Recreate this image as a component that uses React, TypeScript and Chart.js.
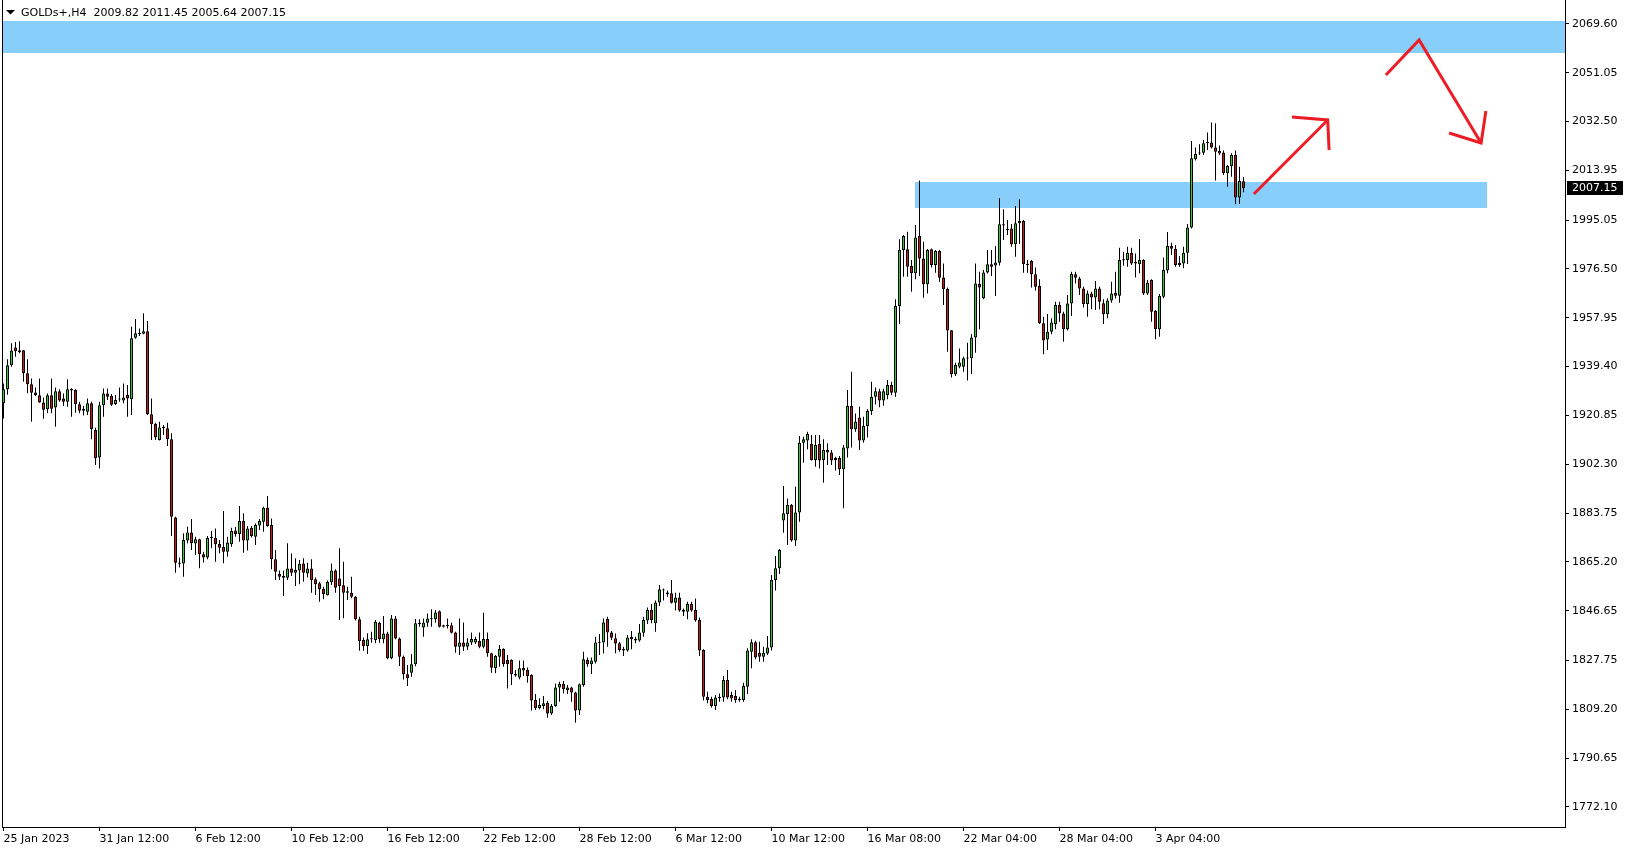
import { useEffect, useRef } from "react";
import { Chart, registerables } from "chart.js";

Chart.register(...registerables);

// ---------- data ----------
const headerText = "GOLDs+,H4  2009.82 2011.45 2005.64 2007.15";

const opens = [
  1925.5, 1930.8, 1939.9, 1946.7, 1945.6, 1945.6, 1936.9, 1932.7, 1929.6, 1928.5,
  1925.8, 1923.2, 1928.5, 1923.9, 1930.0, 1927.3, 1926.1, 1930.3, 1930.5, 1925.1,
  1923.3, 1922.3, 1925.5, 1915.3, 1904.9, 1924.7, 1929.2, 1928.2, 1925.2, 1926.9,
  1926.5, 1928.6, 1927.0, 1950.4, 1951.8, 1951.9, 1952.8, 1921.3, 1917.6, 1911.5,
  1916.0, 1916.0, 1911.8, 1882.1, 1865.0, 1864.6, 1873.3, 1876.4, 1872.2, 1873.8,
  1868.1, 1866.9, 1874.2, 1874.3, 1872.0, 1870.9, 1869.1, 1871.9, 1877.1, 1875.8,
  1880.7, 1873.3, 1878.2, 1874.8, 1879.0, 1880.5, 1885.8, 1879.2, 1866.2, 1860.6,
  1859.8, 1859.2, 1862.7, 1861.1, 1861.9, 1864.6, 1860.8, 1862.7, 1858.6, 1857.1,
  1854.9, 1852.5, 1857.5, 1861.9, 1858.9, 1856.3, 1854.0, 1853.5, 1852.0, 1843.4,
  1835.5, 1833.2, 1835.8, 1835.5, 1842.1, 1835.8, 1838.0, 1828.6, 1843.7, 1836.1,
  1829.2, 1822.5, 1823.1, 1826.3, 1842.1, 1840.3, 1842.1, 1843.4, 1843.4, 1846.4,
  1841.1, 1841.0, 1841.1, 1838.4, 1833.0, 1834.6, 1833.0, 1834.6, 1834.6, 1835.1,
  1833.0, 1835.9, 1830.5, 1824.8, 1829.2, 1832.1, 1827.9, 1827.9, 1822.6, 1821.3,
  1824.9, 1824.1, 1822.2, 1812.7, 1809.6, 1810.4, 1811.7, 1807.6, 1810.4, 1817.5,
  1818.8, 1816.5, 1817.5, 1815.6, 1808.7, 1818.4, 1827.9, 1826.3, 1827.3, 1834.5,
  1834.6, 1843.5, 1838.4, 1836.2, 1834.3, 1832.1, 1831.5, 1836.7, 1836.0, 1835.3,
  1838.3, 1842.9, 1846.9, 1841.9, 1849.8, 1854.3, 1853.6, 1853.3, 1849.7, 1851.7,
  1846.9, 1846.3, 1849.2, 1846.9, 1843.1, 1831.7, 1814.0, 1813.1, 1810.4, 1813.4,
  1813.7, 1820.3, 1814.6, 1814.2, 1813.2, 1812.7, 1817.8, 1831.1, 1834.7, 1830.7,
  1829.2, 1830.4, 1832.7, 1858.3, 1862.8, 1880.9, 1883.4, 1886.8, 1873.3, 1884.0,
  1910.5, 1911.3, 1910.0, 1903.9, 1910.0, 1903.9, 1907.7, 1906.8, 1904.7, 1904.7,
  1900.4, 1908.3, 1924.4, 1915.6, 1920.1, 1911.3, 1916.8, 1922.5, 1928.0, 1930.0,
  1926.5, 1928.5, 1932.4, 1929.5, 1962.4, 1983.7, 1984.0, 1977.6, 1974.9, 1989.0,
  1980.5, 1970.7, 1984.0, 1978.0, 1983.3, 1973.3, 1968.9, 1953.2, 1936.5, 1939.4,
  1939.4, 1942.9, 1942.6, 1950.5, 1970.8, 1965.4, 1975.2, 1978.3, 1977.8, 1978.9,
  1993.5, 1991.6, 1991.9, 1985.9, 1993.9, 1994.7, 1978.4, 1979.5, 1974.5, 1970.0,
  1955.9, 1949.7, 1952.7, 1955.5, 1962.8, 1959.6, 1953.6, 1963.4, 1974.5, 1972.9,
  1969.1, 1963.2, 1967.2, 1965.7, 1969.1, 1963.5, 1959.3, 1964.5, 1967.5, 1966.3,
  1979.7, 1979.9, 1982.7, 1979.3, 1978.3, 1979.9, 1967.2, 1972.3, 1960.5, 1953.6,
  1966.0, 1975.9, 1985.2, 1984.1, 1978.9, 1978.6, 1982.7, 1992.3, 2018.3, 2020.4,
  2020.7, 2024.3, 2024.6, 2022.7, 2021.3, 2020.8, 2012.9, 2015.6, 2019.8, 2003.7,
  2009.82,
];

const highs = [
  1933.0, 1942.2, 1948.3, 1948.8, 1949.0, 1945.7, 1942.2, 1934.9, 1931.5, 1934.9,
  1927.7, 1929.2, 1934.9, 1931.5, 1930.8, 1929.2, 1934.6, 1931.2, 1930.8, 1926.1,
  1924.4, 1927.3, 1926.1, 1916.2, 1926.1, 1931.1, 1931.1, 1929.0, 1928.6, 1931.5,
  1933.0, 1932.4, 1954.6, 1957.5, 1953.9, 1959.7, 1956.7, 1927.3, 1918.1, 1918.5,
  1917.2, 1918.1, 1914.1, 1882.4, 1866.9, 1876.1, 1878.6, 1881.5, 1874.8, 1874.0,
  1869.1, 1875.0, 1876.9, 1877.9, 1873.5, 1884.5, 1874.8, 1878.2, 1878.6, 1886.4,
  1883.7, 1878.8, 1878.8, 1879.8, 1881.5, 1886.2, 1890.2, 1881.7, 1869.7, 1861.9,
  1861.9, 1872.3, 1868.4, 1866.6, 1865.9, 1866.6, 1864.9, 1866.2, 1859.3, 1857.7,
  1855.8, 1858.1, 1864.6, 1862.4, 1870.4, 1865.3, 1855.8, 1859.6, 1852.2, 1844.4,
  1836.5, 1838.1, 1838.7, 1843.1, 1842.5, 1844.6, 1838.7, 1845.0, 1844.6, 1836.5,
  1829.6, 1826.0, 1830.2, 1843.5, 1843.4, 1843.7, 1845.6, 1847.2, 1846.9, 1846.7,
  1841.3, 1843.7, 1842.1, 1838.7, 1843.7, 1842.2, 1836.2, 1838.4, 1836.8, 1838.4,
  1845.9, 1838.4, 1830.7, 1829.8, 1833.6, 1832.4, 1829.8, 1828.2, 1824.1, 1827.7,
  1827.7, 1825.1, 1822.5, 1815.0, 1813.4, 1814.2, 1812.3, 1811.2, 1819.0, 1819.7,
  1819.9, 1818.4, 1817.8, 1815.9, 1819.0, 1831.1, 1828.9, 1828.9, 1836.8, 1837.8,
  1843.7, 1844.4, 1838.9, 1838.0, 1834.9, 1833.0, 1837.4, 1838.9, 1836.8, 1841.6,
  1844.4, 1847.9, 1849.2, 1850.5, 1856.4, 1855.1, 1854.3, 1858.3, 1853.5, 1853.5,
  1847.5, 1850.1, 1850.1, 1851.3, 1844.1, 1832.0, 1815.9, 1814.0, 1814.6, 1815.2,
  1821.8, 1824.1, 1815.9, 1816.5, 1814.0, 1819.3, 1832.4, 1835.8, 1835.2, 1834.9,
  1833.0, 1837.0, 1860.2, 1867.4, 1870.1, 1894.0, 1889.3, 1887.2, 1893.8, 1913.0,
  1912.8, 1914.7, 1913.4, 1913.4, 1913.4, 1911.8, 1910.3, 1907.7, 1905.2, 1905.4,
  1909.6, 1930.5, 1937.5, 1921.6, 1924.2, 1920.4, 1923.2, 1933.7, 1931.5, 1931.0,
  1931.0, 1934.3, 1933.7, 1965.0, 1987.8, 1989.4, 1990.7, 1979.9, 1993.2, 2010.1,
  1986.9, 1984.1, 1984.3, 1983.7, 1983.7, 1978.6, 1969.5, 1953.3, 1940.9, 1946.3,
  1943.2, 1948.5, 1951.8, 1978.6, 1975.5, 1976.1, 1983.7, 1983.7, 1985.2, 2003.4,
  1999.2, 1995.1, 1993.6, 2000.4, 2003.0, 1995.1, 1979.9, 1979.9, 1977.1, 1972.6,
  1958.4, 1959.4, 1957.8, 1964.1, 1964.1, 1960.3, 1966.6, 1975.5, 1975.5, 1973.6,
  1969.8, 1968.3, 1967.9, 1971.9, 1969.8, 1965.0, 1965.4, 1971.7, 1975.5, 1984.6,
  1983.1, 1985.0, 1984.6, 1982.4, 1987.9, 1980.2, 1972.3, 1972.6, 1960.9, 1967.0,
  1980.9, 1990.6, 1986.5, 1985.6, 1981.4, 1985.0, 1993.6, 2025.1, 2022.7, 2023.9,
  2025.5, 2028.4, 2032.2, 2031.9, 2023.4, 2021.5, 2016.0, 2020.5, 2021.5, 2015.4,
  2011.45,
];

const lows = [
  1919.7, 1928.7, 1939.4, 1943.2, 1944.5, 1933.7, 1929.3, 1918.5, 1928.2, 1925.7,
  1919.6, 1921.7, 1921.7, 1916.6, 1926.1, 1924.4, 1924.2, 1920.4, 1921.9, 1921.7,
  1920.8, 1921.0, 1911.8, 1902.0, 1900.7, 1920.4, 1926.7, 1924.4, 1924.8, 1926.1,
  1925.5, 1920.4, 1921.0, 1950.0, 1951.0, 1951.7, 1921.0, 1911.5, 1911.5, 1911.3,
  1913.4, 1909.2, 1875.0, 1861.1, 1863.1, 1859.6, 1872.3, 1869.7, 1867.8, 1862.8,
  1865.0, 1866.2, 1870.4, 1865.3, 1868.5, 1864.7, 1867.2, 1871.0, 1874.8, 1872.9,
  1868.7, 1869.5, 1874.5, 1871.6, 1877.3, 1876.7, 1878.6, 1862.4, 1858.3, 1858.3,
  1852.2, 1858.3, 1859.8, 1856.0, 1856.7, 1857.7, 1859.3, 1853.5, 1852.6, 1850.1,
  1851.0, 1852.4, 1856.4, 1853.5, 1843.1, 1843.8, 1850.7, 1851.4, 1842.9, 1831.4,
  1831.4, 1830.2, 1834.5, 1834.3, 1834.5, 1834.3, 1828.2, 1828.2, 1835.8, 1825.6,
  1820.5, 1818.0, 1821.6, 1825.5, 1840.6, 1836.8, 1840.6, 1840.6, 1842.1, 1840.3,
  1840.3, 1839.9, 1838.0, 1830.7, 1829.8, 1831.3, 1831.7, 1833.6, 1834.0, 1832.4,
  1832.4, 1829.2, 1823.1, 1822.9, 1825.4, 1825.4, 1817.1, 1818.4, 1821.6, 1820.6,
  1821.8, 1819.3, 1808.7, 1808.9, 1809.2, 1809.2, 1806.0, 1807.0, 1810.2, 1812.1,
  1815.2, 1815.0, 1812.1, 1804.1, 1807.0, 1817.8, 1825.4, 1822.6, 1826.6, 1829.8,
  1830.4, 1833.0, 1835.5, 1830.5, 1831.1, 1829.4, 1831.1, 1832.0, 1834.3, 1834.9,
  1836.8, 1841.6, 1841.9, 1838.7, 1848.4, 1850.5, 1852.0, 1849.4, 1846.7, 1846.3,
  1844.6, 1843.4, 1846.3, 1842.5, 1829.4, 1812.5, 1811.5, 1809.9, 1808.9, 1812.1,
  1812.1, 1813.0, 1812.1, 1811.7, 1812.1, 1812.1, 1815.0, 1824.8, 1828.2, 1827.3,
  1827.3, 1829.8, 1831.5, 1854.3, 1860.6, 1876.3, 1871.6, 1872.9, 1871.2, 1880.5,
  1902.9, 1908.0, 1903.7, 1901.4, 1900.7, 1895.3, 1902.0, 1902.0, 1899.9, 1898.2,
  1885.6, 1904.9, 1908.7, 1914.7, 1907.7, 1910.5, 1912.5, 1921.0, 1925.0, 1924.0,
  1924.5, 1927.0, 1928.5, 1928.0, 1955.6, 1973.6, 1973.6, 1967.9, 1972.6, 1973.8,
  1965.6, 1967.2, 1977.1, 1975.1, 1971.6, 1962.8, 1945.1, 1935.3, 1935.8, 1938.8,
  1937.5, 1934.1, 1936.6, 1944.7, 1953.6, 1965.0, 1974.8, 1973.8, 1966.2, 1977.8,
  1987.5, 1989.4, 1985.0, 1981.2, 1986.0, 1975.1, 1975.1, 1969.5, 1968.3, 1955.6,
  1944.1, 1945.7, 1951.7, 1953.6, 1956.5, 1948.9, 1953.1, 1958.6, 1971.0, 1966.6,
  1961.9, 1958.4, 1961.2, 1960.9, 1961.2, 1955.6, 1957.8, 1963.7, 1965.3, 1963.7,
  1977.7, 1977.4, 1978.0, 1973.3, 1974.9, 1966.6, 1966.6, 1956.5, 1949.8, 1950.8,
  1965.4, 1974.9, 1981.8, 1977.4, 1977.4, 1976.8, 1978.4, 1991.9, 2017.7, 2019.8,
  2019.8, 2021.7, 2022.3, 2010.1, 2019.8, 2012.2, 2007.8, 2011.6, 2001.1, 2001.2,
  2005.64,
];

const closes = [
  1930.8, 1939.9, 1945.5, 1945.2, 1945.0, 1936.9, 1932.7, 1929.5, 1928.6, 1925.8,
  1923.0, 1928.5, 1923.4, 1930.0, 1926.5, 1926.1, 1930.8, 1930.9, 1925.1, 1922.6,
  1922.6, 1925.5, 1915.6, 1904.6, 1924.7, 1929.2, 1928.0, 1924.9, 1926.7, 1927.3,
  1927.7, 1927.3, 1950.2, 1952.1, 1952.0, 1952.8, 1921.3, 1917.5, 1912.5, 1916.3,
  1916.6, 1911.8, 1882.4, 1864.9, 1864.5, 1873.5, 1876.4, 1872.3, 1873.8, 1868.1,
  1866.9, 1874.3, 1874.8, 1871.9, 1870.6, 1869.1, 1872.6, 1876.9, 1875.8, 1880.7,
  1873.3, 1877.9, 1875.0, 1879.2, 1880.7, 1885.8, 1878.8, 1866.2, 1861.5, 1859.6,
  1859.2, 1862.7, 1861.1, 1862.1, 1864.4, 1861.1, 1862.7, 1858.3, 1856.7, 1854.8,
  1853.0, 1857.6, 1861.9, 1855.4, 1856.0, 1853.5, 1853.5, 1852.0, 1843.4, 1835.0,
  1833.2, 1835.8, 1836.2, 1842.5, 1835.8, 1838.0, 1828.6, 1843.7, 1836.1, 1829.2,
  1822.5, 1821.0, 1826.3, 1841.9, 1841.6, 1842.2, 1843.7, 1843.7, 1846.0, 1840.6,
  1840.6, 1840.8, 1838.3, 1833.0, 1834.6, 1833.0, 1834.6, 1835.9, 1835.9, 1833.0,
  1835.9, 1830.5, 1825.0, 1829.4, 1832.1, 1826.3, 1826.3, 1822.5, 1822.0, 1824.8,
  1823.9, 1821.8, 1812.5, 1809.6, 1810.8, 1811.5, 1807.6, 1810.4, 1817.5, 1818.8,
  1816.8, 1817.5, 1815.6, 1808.7, 1818.7, 1828.2, 1826.4, 1827.7, 1834.6, 1834.9,
  1842.2, 1838.4, 1836.4, 1834.2, 1831.7, 1831.5, 1836.5, 1835.8, 1835.3, 1838.4,
  1843.1, 1846.9, 1843.1, 1849.8, 1854.8, 1854.6, 1853.0, 1849.7, 1851.7, 1846.7,
  1846.3, 1849.2, 1846.7, 1842.9, 1831.5, 1814.0, 1812.7, 1810.4, 1813.7, 1813.9,
  1820.3, 1813.7, 1813.3, 1812.7, 1812.7, 1818.0, 1831.5, 1834.7, 1828.9, 1829.2,
  1830.7, 1832.7, 1858.3, 1862.8, 1869.7, 1883.7, 1886.8, 1873.3, 1884.0, 1910.5,
  1911.8, 1913.8, 1903.9, 1909.6, 1903.7, 1907.7, 1906.8, 1903.7, 1903.9, 1900.4,
  1908.7, 1924.4, 1915.6, 1918.5, 1911.3, 1916.8, 1922.5, 1928.0, 1930.0, 1926.5,
  1930.0, 1932.4, 1929.5, 1962.4, 1983.7, 1989.0, 1977.4, 1974.9, 1988.5, 1980.5,
  1970.7, 1983.7, 1978.0, 1983.3, 1973.2, 1968.8, 1953.1, 1936.5, 1940.0, 1941.0,
  1942.6, 1942.5, 1950.5, 1971.0, 1969.5, 1975.2, 1978.3, 1977.4, 1979.0, 1993.5,
  1993.0, 1991.3, 1985.9, 1993.9, 1994.7, 1978.3, 1978.0, 1974.5, 1969.8, 1955.9,
  1949.3, 1952.7, 1956.2, 1962.8, 1959.6, 1953.6, 1963.4, 1974.6, 1973.2, 1969.1,
  1963.2, 1967.2, 1965.7, 1969.1, 1964.1, 1959.3, 1964.5, 1967.2, 1966.3, 1979.9,
  1980.2, 1982.7, 1978.6, 1978.6, 1979.9, 1967.2, 1971.3, 1960.3, 1953.6, 1966.2,
  1976.1, 1985.2, 1984.2, 1978.0, 1978.0, 1982.7, 1992.3, 2018.6, 2020.2, 2020.7,
  2024.3, 2024.8, 2022.7, 2021.1, 2020.4, 2012.9, 2015.6, 2019.8, 2003.7, 2009.9,
  2007.15,
];

const timeTickIndex = [0, 24, 48, 72, 96, 120, 144, 168, 192, 216, 240, 264, 288];
const timeTickLabels = [
  "25 Jan 2023", "31 Jan 12:00", "6 Feb 12:00", "10 Feb 12:00", "16 Feb 12:00",
  "22 Feb 12:00", "28 Feb 12:00", "6 Mar 12:00", "10 Mar 12:00", "16 Mar 08:00",
  "22 Mar 04:00", "28 Mar 04:00", "3 Apr 04:00",
];

const priceTicks = [
  2069.6, 2051.05, 2032.5, 2013.95, 1995.05, 1976.5, 1957.95, 1939.4, 1920.85,
  1902.3, 1883.75, 1865.2, 1846.65, 1827.75, 1809.2, 1790.65, 1772.1,
];

// zones (candle index / price units); null = full chart width
const zoneStart: (number | null)[] = [null, 227.9];
const zoneEnd: (number | null)[] = [null, 370.8];
const zoneHigh = [2070.74, 2009.56];
const zoneLow = [2058.4, 1999.79];

// hand-drawn arrows (candle index, price)
const arrowLines: [number, number][][] = [
  [[312.6, 2005.0], [331.05, 2033.12]],
  [[322.1, 2034.26], [331.05, 2033.12], [331.4, 2021.72]],
  [[345.6, 2050.22], [353.9, 2063.52], [369.4, 2024.38]],
  [[361.4, 2028.18], [369.4, 2024.38], [370.6, 2036.54]],
];

const X_MIN = -0.375;
const X_MAX = 390.375;
const Y_MAX = 2078.72;
const Y_MIN = 1764.46;

const GREEN = "#2fcf2f";
const RED = "#cf1414";
const ZONE = "#87cefa";
const ARROW = "#ee1c25";
const FONT = "DejaVu Sans";

export default function App() {
  const ref = useRef<HTMLCanvasElement | null>(null);

  useEffect(() => {
    document.body.style.margin = "0";
    const canvas = ref.current;
    if (!canvas) return;
    const idx = opens.map((_, i) => i);

    const overlay = {
      id: "overlay",
      beforeDatasetsDraw(chart: any) {
        const { ctx, chartArea, scales } = chart;
        const xs = scales.x;
        const ys = scales.y;
        ctx.save();
        ctx.fillStyle = ZONE;
        for (let i = 0; i < zoneHigh.length; i++) {
          const s = zoneStart[i];
          const e = zoneEnd[i];
          const x0 = s === null ? chartArea.left : xs.getPixelForValue(s);
          const x1 = e === null ? chartArea.right : xs.getPixelForValue(e);
          const y0 = ys.getPixelForValue(zoneHigh[i]);
          const y1 = ys.getPixelForValue(zoneLow[i]);
          ctx.fillRect(Math.round(x0), Math.round(y0), Math.round(x1) - Math.round(x0), Math.round(y1) - Math.round(y0));
        }
        ctx.restore();
      },
      afterDatasetsDraw(chart: any) {
        const { ctx, chartArea, scales } = chart;
        const xs = scales.x;
        const ys = scales.y;
        ctx.save();
        ctx.strokeStyle = ARROW;
        ctx.lineWidth = 3;
        ctx.lineJoin = "miter";
        ctx.lineCap = "butt";
        for (const line of arrowLines) {
          ctx.beginPath();
          line.forEach(([xi, p], k) => {
            const px = xs.getPixelForValue(xi);
            const py = ys.getPixelForValue(p);
            if (k === 0) ctx.moveTo(px, py);
            else ctx.lineTo(px, py);
          });
          ctx.stroke();
        }
        // left frame line
        ctx.fillStyle = "#000";
        ctx.fillRect(Math.round(chartArea.left), 0, 1, Math.round(chartArea.bottom));
        // header
        ctx.beginPath();
        ctx.moveTo(6, 10);
        ctx.lineTo(15, 10);
        ctx.lineTo(10.5, 14.5);
        ctx.closePath();
        ctx.fill();
        ctx.font = `11px "${FONT}"`;
        ctx.textBaseline = "middle";
        ctx.textAlign = "left";
        ctx.fillText(headerText, 21, 13);
        ctx.restore();
      },
      afterDraw(chart: any) {
        const { ctx, chartArea, scales } = chart;
        const ys = scales.y;
        const last = closes[closes.length - 1];
        const y = Math.round(ys.getPixelForValue(last));
        ctx.save();
        ctx.fillStyle = "#000";
        ctx.fillRect(chartArea.right + 2, y - 7, 56, 14);
        ctx.fillStyle = "#fff";
        ctx.font = `11px "${FONT}"`;
        ctx.textBaseline = "middle";
        ctx.textAlign = "left";
        ctx.fillText(last.toFixed(2), chartArea.right + 7, y + 0.5);
        ctx.restore();
      },
    };

    const chart = new Chart(canvas, {
      type: "bar",
      data: {
        datasets: [
          {
            label: "body",
            data: idx.map((i) => ({ x: i, y: [opens[i], closes[i]] })) as any,
            backgroundColor: idx.map((i) => (closes[i] >= opens[i] ? GREEN : RED)),
            borderColor: "#000",
            borderWidth: 1,
            borderSkipped: false,
            barThickness: 3,
            minBarLength: 1,
            grouped: false,
            inflateAmount: 0,
            order: 0,
          } as any,
          {
            label: "wick",
            data: idx.map((i) => ({ x: i, y: [lows[i], highs[i]] })) as any,
            backgroundColor: "#000",
            borderWidth: 0,
            barThickness: 1,
            grouped: false,
            inflateAmount: 0,
            order: 1,
          } as any,
        ],
      },
      options: {
        animation: false,
        responsive: false,
        devicePixelRatio: 1,
        layout: { padding: { left: 2, top: 0, right: 0, bottom: 0 } },
        plugins: { legend: { display: false }, tooltip: { enabled: false } },
        scales: {
          x: {
            type: "linear",
            min: X_MIN,
            max: X_MAX,
            offset: false,
            position: "bottom",
            afterBuildTicks: (s: any) => {
              s.ticks = timeTickIndex.map((v) => ({ value: v }));
            },
            afterFit: (s: any) => {
              s.height = 23;
              s.paddingLeft = 0;
              s.paddingRight = 0;
            },
            ticks: {
              autoSkip: false,
              maxRotation: 0,
              minRotation: 0,
              align: "start",
              padding: 2,
              color: "#000",
              font: { family: FONT, size: 11 },
              callback: (_v: any, i: number) => timeTickLabels[i],
            },
            grid: { display: true, drawOnChartArea: false, drawTicks: true, tickLength: 4, color: "#000", offset: false },
            border: { display: true, color: "#000", width: 1 },
          } as any,
          y: {
            type: "linear",
            position: "right",
            min: Y_MIN,
            max: Y_MAX,
            afterBuildTicks: (s: any) => {
              s.ticks = priceTicks.map((v) => ({ value: v }));
            },
            afterFit: (s: any) => {
              s.width = 64;
              s.paddingTop = 0;
              s.paddingBottom = 0;
            },
            ticks: {
              autoSkip: false,
              padding: 3,
              color: "#000",
              font: { family: FONT, size: 11 },
              callback: (v: any) => Number(v).toFixed(2),
            },
            grid: { display: true, drawOnChartArea: false, drawTicks: true, tickLength: 4, color: "#000" },
            border: { display: true, color: "#000", width: 1 },
          } as any,
        },
      },
      plugins: [overlay],
    });

    return () => chart.destroy();
  }, []);

  return (
    <div style={{ position: "absolute", left: 0, top: 0, width: 1629, height: 850, background: "#fff" }}>
      <canvas ref={ref} width={1629} height={850} style={{ display: "block", width: 1629, height: 850 }} />
    </div>
  );
}
